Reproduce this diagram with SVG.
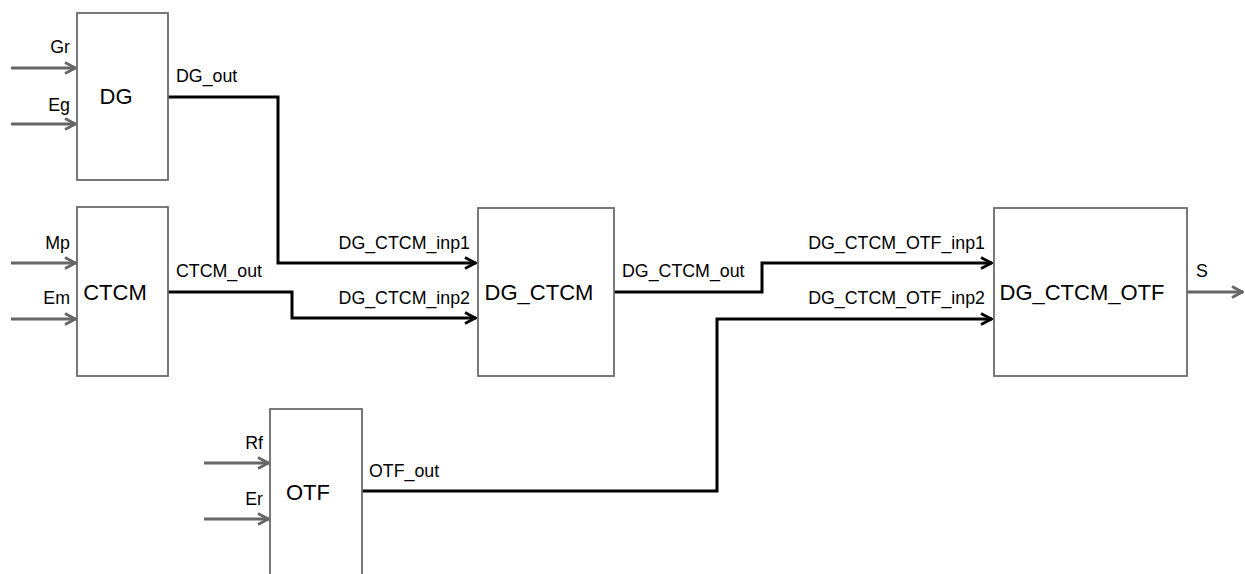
<svg xmlns="http://www.w3.org/2000/svg" width="1245" height="574" viewBox="0 0 1245 574">
<defs>
<style>
.box{fill:#fff;stroke:#6b6b6b;stroke-width:1.8}
.in{fill:none;stroke:#666;stroke-width:3}
.wire{fill:none;stroke:#000;stroke-width:3;stroke-linejoin:miter}
.lbl{font-family:"Liberation Sans",Arial,sans-serif;font-size:17.8px;fill:#000}
.big{font-family:"Liberation Sans",Arial,sans-serif;font-size:22px;fill:#000;text-anchor:middle}
.r{text-anchor:end}
</style>
<marker id="ag" viewBox="0 0 14 14" refX="13" refY="7" markerWidth="14" markerHeight="14" markerUnits="userSpaceOnUse" orient="auto">
<path d="M2,1.5 L12.5,7 L2,12.5" fill="none" stroke="#666" stroke-width="2.8"/>
</marker>
<marker id="ab" viewBox="0 0 14 14" refX="13" refY="7" markerWidth="14" markerHeight="14" markerUnits="userSpaceOnUse" orient="auto">
<path d="M2,1.5 L12.5,7 L2,12.5" fill="none" stroke="#000" stroke-width="2.8"/>
</marker>
</defs>
<rect width="1245" height="574" fill="#fff"/>
<g id="connectors">
<path class="in" d="M11,68 H76" marker-end="url(#ag)"/>
<path class="in" d="M11,124 H76" marker-end="url(#ag)"/>
<path class="in" d="M11,263 H76" marker-end="url(#ag)"/>
<path class="in" d="M11,319 H76" marker-end="url(#ag)"/>
<path class="in" d="M204,463 H269" marker-end="url(#ag)"/>
<path class="in" d="M204,519 H269" marker-end="url(#ag)"/>
<path class="in" d="M1187,292 H1243" marker-end="url(#ag)"/>
<path class="wire" d="M168,97 H278 V263 H476" marker-end="url(#ab)"/>
<path class="wire" d="M168,292 H292 V318 H476" marker-end="url(#ab)"/>
<path class="wire" d="M614,292 H762 V263 H992" marker-end="url(#ab)"/>
<path class="wire" d="M362,491 H717 V319 H992" marker-end="url(#ab)"/>
<text class="lbl" x="176" y="82">DG_out</text>
<text class="lbl" x="176" y="277">CTCM_out</text>
<text class="lbl" x="369" y="477">OTF_out</text>
<text class="lbl r" x="470" y="249">DG_CTCM_inp1</text>
<text class="lbl r" x="470" y="304">DG_CTCM_inp2</text>
<text class="lbl" x="622" y="277">DG_CTCM_out</text>
<text class="lbl r" x="985" y="249">DG_CTCM_OTF_inp1</text>
<text class="lbl r" x="985" y="304">DG_CTCM_OTF_inp2</text>
<text class="lbl" x="1196" y="277">S</text>
<text class="lbl r" x="70" y="53">Gr</text>
<text class="lbl r" x="70" y="111">Eg</text>
<text class="lbl r" x="70" y="249">Mp</text>
<text class="lbl r" x="70" y="304">Em</text>
<text class="lbl r" x="263" y="449">Rf</text>
<text class="lbl r" x="263" y="505">Er</text>
</g>
<g id="DG">
<rect class="box" x="77" y="13" width="91" height="167"/>
<text class="big" x="116" y="104">DG</text>
</g>
<g id="CTCM">
<rect class="box" x="77" y="207" width="91" height="169"/>
<text class="big" x="115" y="300">CTCM</text>
</g>
<g id="OTF">
<rect class="box" x="270" y="409" width="92" height="180"/>
<text class="big" x="308" y="500">OTF</text>
</g>
<g id="DG_CTCM">
<rect class="box" x="478" y="208" width="136" height="168"/>
<text class="big" x="539" y="300">DG_CTCM</text>
</g>
<g id="DG_CTCM_OTF">
<rect class="box" x="994" y="208" width="193" height="168"/>
<text class="big" x="1082" y="300">DG_CTCM_OTF</text>
</g>
</svg>
